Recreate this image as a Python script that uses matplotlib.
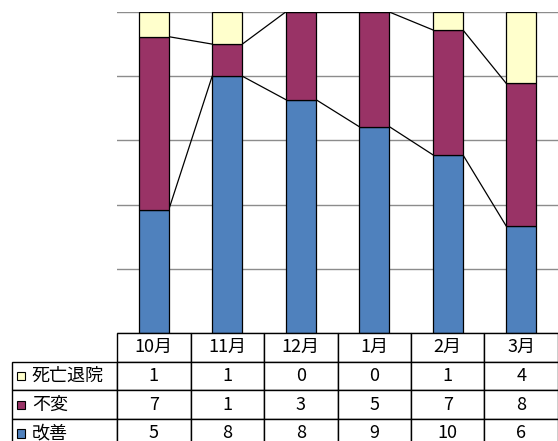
import matplotlib
matplotlib.use("Agg")
import matplotlib.pyplot as plt
from matplotlib.patches import Rectangle
from matplotlib.table import Table
import numpy as np

plt.rcParams['font.family'] = ['Noto Sans CJK JP', 'DejaVu Sans']

months = ['10月', '11月', '12月', '1月', '2月', '3月']
series = ['死亡退院', '不変', '改善']
kaizen = [5, 8, 8, 9, 10, 6]
fuhen = [7, 1, 3, 5, 7, 8]
shibou = [1, 1, 0, 0, 1, 4]
colors = {'改善': '#4F81BD', '不変': '#993366', '死亡退院': '#FFFFCC'}

AX_W, AX_H = 441, 321  # axes size in pixels
fig = plt.figure(figsize=(5.58, 4.41), dpi=100)
ax = fig.add_axes([117 / 558, 1 - 333 / 441, AX_W / 558, AX_H / 441])

x = np.arange(len(months))
total = np.array(kaizen) + np.array(fuhen) + np.array(shibou)
p_k = np.array(kaizen) / total * 100
p_f = np.array(fuhen) / total * 100
p_s = np.array(shibou) / total * 100

w = 0.41
ax.bar(x, p_k, w, color=colors['改善'], edgecolor='black', linewidth=0.9, zorder=3)
ax.bar(x, p_f, w, bottom=p_k, color=colors['不変'], edgecolor='black', linewidth=0.9, zorder=3)
ax.bar(x, p_s, w, bottom=p_k + p_f, color=colors['死亡退院'], edgecolor='black', linewidth=0.9, zorder=3)

# series lines between bars
for level in (p_k, p_k + p_f):
    for i in range(len(x) - 1):
        ax.plot([x[i] + w / 2, x[i + 1] - w / 2], [level[i], level[i + 1]],
                color='black', linewidth=0.9, zorder=2)

ax.set_xlim(-0.5, len(months) - 0.5)
ax.set_ylim(0, 100)
ax.set_yticks(np.arange(0, 101, 20))
ax.yaxis.grid(True, color='#8c8c8c', linewidth=1.0, zorder=0)
ax.tick_params(left=False, bottom=False, labelleft=False, labelbottom=False)
for s in ax.spines.values():
    s.set_visible(False)

# data table under the chart
cell_text = [[str(v) for v in shibou], [str(v) for v in fuhen], [str(v) for v in kaizen]]
row_h = 28.7 / AX_H
label_w = 105 / AX_W
tbl = Table(ax, bbox=[0, -4 * row_h, 1, 4 * row_h])
for j, m in enumerate(months):
    tbl.add_cell(0, j, width=73.5, height=1, text=m, loc='center')
for i, name in enumerate(series):
    c = tbl.add_cell(i + 1, -1, width=105, height=1, text=name, loc='left')
    c.PAD = 0.19
    for j in range(len(months)):
        tbl.add_cell(i + 1, j, width=73.5, height=1, text=cell_text[i][j], loc='center')
tbl.auto_set_font_size(False)
for (r, c), cell in tbl.get_celld().items():
    cell.set_linewidth(1.0)
    cell.set_edgecolor('black')
    cell.get_text().set_fontsize(13)
tbl.set_zorder(5)
ax.add_table(tbl)

# legend keys in the row label cells
sz = 8.5
for r, name in enumerate(series, start=1):
    cy = -(r + 0.5) * row_h
    key = Rectangle((-label_w + 4.5 / AX_W, cy - sz / 2 / AX_H), sz / AX_W, sz / AX_H,
                    transform=ax.transAxes, facecolor=colors[name],
                    edgecolor='black', linewidth=0.8, clip_on=False, zorder=10)
    ax.add_patch(key)

fig.canvas.draw()
fig.savefig('out.png', dpi=100)
